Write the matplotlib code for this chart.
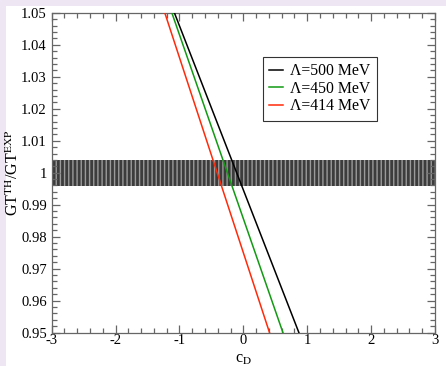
import matplotlib.pyplot as plt
from matplotlib.patches import Rectangle
from matplotlib.ticker import MultipleLocator

plt.rcParams['font.family'] = 'Liberation Serif'
plt.rcParams['mathtext.fontset'] = 'stix'
plt.rcParams['axes.unicode_minus'] = False

# straight-line fits of GT ratio vs c_D for each cutoff
cd_500 = [-1.08, 0.87]
gt_500 = [1.05, 0.95]
cd_450 = [-1.12, 0.62]
gt_450 = [1.05, 0.95]
cd_414 = [-1.23, 0.41]
gt_414 = [1.05, 0.95]

labels = ['Λ=500 MeV', 'Λ=450 MeV', 'Λ=414 MeV']
colors = ['black', '#129a12', '#ff2a0a']

# experimental band
band_lo = 0.9959
band_hi = 1.0041

fig = plt.figure(figsize=(4.46, 3.66), dpi=100)
fig.patch.set_facecolor('#efe6f3')
fig.patches.append(Rectangle((6 / 446, 0), 1, 1 - 6 / 366, transform=fig.transFigure,
                             facecolor='white', edgecolor='none', zorder=-5))

ax = fig.add_axes([51.7 / 446, 1 - 332.7 / 366, (435 - 51.7) / 446, (332.7 - 12.7) / 366])

ax.axhspan(band_lo, band_hi, facecolor='#3c3c3c', edgecolor='#9a9a9a', hatch='||||', lw=0, zorder=1)

ax.plot(cd_500, gt_500, color=colors[0], lw=1.1, label=labels[0], zorder=3)
ax.plot(cd_450, gt_450, color=colors[1], lw=1.1, label=labels[1], zorder=3)
ax.plot(cd_414, gt_414, color=colors[2], lw=1.1, label=labels[2], zorder=3)

ax.set_xlim(-3, 3)
ax.set_ylim(0.95, 1.05)
ax.xaxis.set_major_locator(MultipleLocator(1))
ax.xaxis.set_minor_locator(MultipleLocator(0.2))
ax.yaxis.set_major_locator(MultipleLocator(0.01))
ax.yaxis.set_minor_locator(MultipleLocator(0.002))
ax.yaxis.set_major_formatter(plt.FuncFormatter(lambda v, p: '1' if abs(v - 1) < 1e-9 else f'{v:g}'))

ax.tick_params(which='both', direction='in', top=True, right=True, colors='#666666',
               labelcolor='black', labelsize=10.5, width=0.9)
ax.tick_params(which='major', length=6)
ax.tick_params(which='minor', length=3.5)
ax.tick_params(axis='x', pad=1)
for s in ax.spines.values():
    s.set_color('#666666')
    s.set_linewidth(0.9)

ax.set_xlabel(r'c$_{\rm D}$', fontsize=11.5, labelpad=3)
ax.set_ylabel(r'GT$^{\rm TH}$/GT$^{\rm EXP}$', fontsize=11.5, labelpad=-0.5)

leg = ax.legend(loc='upper left', bbox_to_anchor=(0.551, 0.862), fontsize=11.3,
                frameon=True, fancybox=False, handlelength=0.85, handletextpad=0.5,
                borderpad=0.4, labelspacing=0.1, borderaxespad=0)
leg.get_frame().set_edgecolor('black')
leg.get_frame().set_linewidth(0.8)

fig.savefig('out.png', dpi=100)
